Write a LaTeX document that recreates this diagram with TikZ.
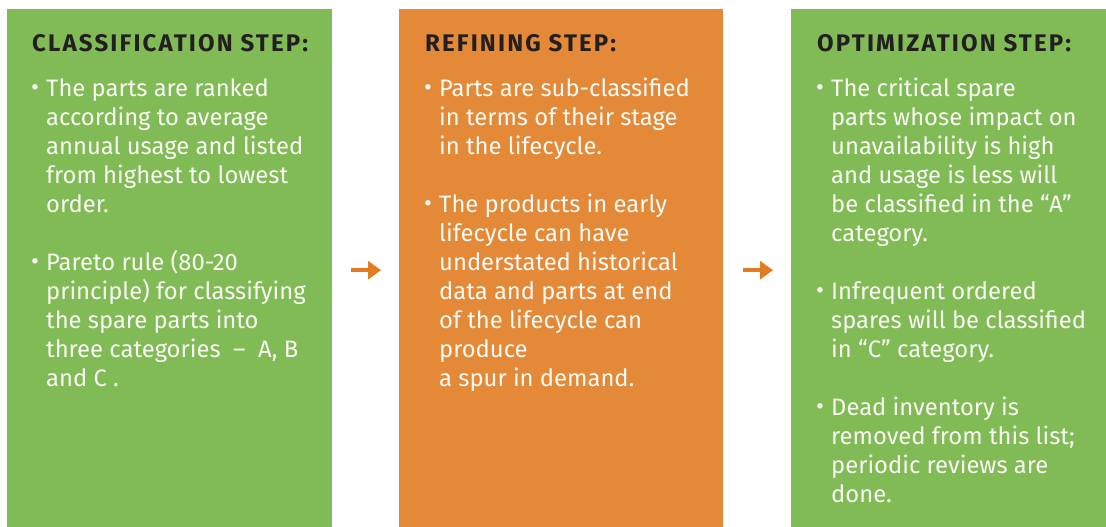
\documentclass[tikz,border=0pt]{standalone}
\usepackage{fontspec}
\setmainfont{Fira Sans}
\newfontfamily\headfont[LetterSpace=9]{Fira Sans}
\usetikzlibrary{arrows.meta}
\definecolor{stepgreen}{RGB}{128,187,85}
\definecolor{steporange}{RGB}{228,137,56}
\definecolor{arroworange}{RGB}{226,124,34}
\definecolor{headink}{RGB}{35,31,32}
\definecolor{bodyink}{RGB}{250,250,244}
\newcommand{\bul}{\makebox[14pt][l]{\hspace*{-1pt}\raisebox{1pt}{\fontsize{24}{24}\selectfont•}}}
\newcommand{\ind}{\hspace*{14pt}}
\newcommand{\steplist}[1]{\parbox[t]{300pt}{\raggedright\fontsize{23.8}{29}\selectfont #1}}
\begin{document}
\begin{tikzpicture}[x=1pt,y=1pt,
  stepbox/.style={fill=#1,draw=none,anchor=north west,inner sep=0pt},
  headtext/.style={anchor=base west,inner sep=0pt,text=headink,
    font=\headfont\fontsize{24}{28}\selectfont\bfseries},
  bodytext/.style={anchor=base west,inner sep=0pt,text=bodyink},
  flowarrow/.style={draw=arroworange,line width=3.6pt,
    -{Triangle[length=13pt,width=18pt]}}]
\useasboundingbox (0,0) rectangle (1106,-527);
% three step panels
\node[stepbox=stepgreen,minimum width=325pt,minimum height=518pt] (b1) at (7,-9) {};
\node[stepbox=steporange,minimum width=324pt,minimum height=518pt] (b2) at (399,-9) {};
\node[stepbox=stepgreen,minimum width=315pt,minimum height=518pt] (b3) at (791,-9) {};
% headings
\node[headtext] (h1) at (32,-52) {CLASSIFICATION STEP:};
\node[headtext] (h2) at (425,-52) {REFINING STEP:};
\node[headtext] (h3) at (817,-52) {OPTIMIZATION STEP:};
% bullet lists
\node[bodytext] (t1) at (32,-96.5) {\steplist{\bul The parts are ranked\\
\ind according to average\\
\ind annual usage and listed\\
\ind from highest to lowest\\
\ind order.\\[29pt]
\bul Pareto rule (80-20\\
\ind principle) for classifying\\
\ind the spare parts into\\
\ind three categories \ –\ \ A, B\\
\ind and C .}};
\node[bodytext] (t2) at (425,-96.5) {\steplist{\bul Parts are sub-classified\\
\ind in terms of their stage\\
\ind in the lifecycle.\\[29pt]
\bul The products in early\\
\ind lifecycle can have\\
\ind understated historical\\
\ind data and parts at end\\
\ind of the lifecycle can\\
\ind produce\\
\ind a spur in demand.}};
\node[bodytext] (t3) at (817,-96.5) {\steplist{\bul The critical spare\\
\ind parts whose impact on\\
\ind unavailability is high\\
\ind and usage is less will\\
\ind be classified in the “A”\\
\ind category.\\[29pt]
\bul Infrequent ordered\\
\ind spares will be classified\\
\ind in “C” category.\\[29pt]
\bul Dead inventory is\\
\ind removed from this list;\\
\ind periodic reviews are\\
\ind done.}};
% arrows between the panels
\draw[flowarrow] ([xshift=19pt,yshift=-2pt]b1.east) -- ([xshift=-18pt,yshift=-2pt]b2.west);
\draw[flowarrow] ([xshift=20pt,yshift=-2pt]b2.east) -- ([xshift=-18pt,yshift=-2pt]b3.west);
\end{tikzpicture}
\end{document}
